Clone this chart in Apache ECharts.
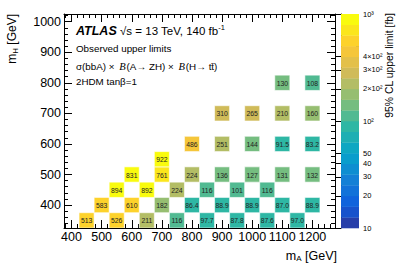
<!DOCTYPE html>
<html>
<head>
<meta charset="utf-8">
<script src="https://cdn.jsdelivr.net/npm/echarts@6/dist/echarts.min.js"></script>
<style>html,body{margin:0;padding:0;background:#fff}#c{width:399px;height:271px}</style>
</head>
<body>
<div id="c"></div>
<script>
// ---- data ----
const massA = [450,550,650,750,850,950,1050,1150,
               500,600,700,800,900,1000,1100,1200,
               550,650,750,850,950,1050,
               600,700,800,900,1000,1100,1200,
               700,
               800,900,1000,1100,1200,
               900,1000,1100,1200,
               1100,1200];
const massH = [350,350,350,350,350,350,350,350,
               400,400,400,400,400,400,400,400,
               450,450,450,450,450,450,
               500,500,500,500,500,500,500,
               550,
               600,600,600,600,600,
               700,700,700,700,
               800,800];
const limits = [513,526,211,116,97.7,87.8,87.6,97.0,
                583,610,182,86.4,88.9,88.9,87.0,88.9,
                894,892,224,116,101,116,
                831,761,224,136,127,131,132,
                922,
                486,251,144,91.5,83.2,
                310,265,210,160,
                130,108];
const xTickLabels = [400,500,600,700,800,900,1000,1100,1200];
const yTickLabels = [400,500,600,700,800,900,1000];
const zTickValues = [10,20,30,40,50,100,200,300,400,1000];
const zTickLabels = ['10','20','30','40','50','10²','2×10²','3×10²','4×10²','10³'];
const zMinorTicks = [60,70,80,90,500,600,700,800,900];

// ---- style ----
const FONT = 'Liberation Sans, Arial, Helvetica, sans-serif';
const binW = 50, binH = 50;
const nContours = 20;
// ROOT kBird palette stops
const stops = [0,0.125,0.25,0.375,0.5,0.625,0.75,0.875,1];
const rr = [0.2082,0.0592,0.0780,0.0232,0.1802,0.5301,0.8186,0.9956,0.9764];
const gg = [0.1664,0.3599,0.5041,0.6419,0.7178,0.7492,0.7328,0.7862,0.9832];
const bb = [0.5293,0.8684,0.8385,0.7914,0.6425,0.4662,0.3499,0.1968,0.0539];
function bird(f){
  f=Math.max(0,Math.min(1,f));
  let i=0; while(i<stops.length-2 && f>stops[i+1]) i++;
  const t=(f-stops[i])/(stops[i+1]-stops[i]);
  const c=a=>Math.round(255*(a[i]+t*(a[i+1]-a[i])));
  return 'rgb('+c(rr)+','+c(gg)+','+c(bb)+')';
}
const zMin = 1, zMax = 3; // log10 range 10..1000
const step = (zMax-zMin)/nContours;
const pieces = [];
const bands = [];
for(let k=0;k<nContours;k++){
  const col = bird((k+0.99)/nContours);
  const lo = zMin+k*step, hi = zMin+(k+1)*step;
  const p = {gte: lo, color: col};
  if(k<nContours-1) p.lt = hi; else p.lte = hi+1;
  pieces.push(p);
  bands.push([lo, hi, col]);
}

const cells = massA.map((a,i)=>[a, massH[i], limits[i], Math.log10(limits[i])]);
function fmt(v){ return v>=100 ? String(Math.round(v)) : v.toFixed(1); }

const lg = v=>Math.log10(v);
const xMinor=[], yMinor=[];
for(let v=380; v<=1260; v+=20) if(v%100) xMinor.push(v);
for(let v=340; v<=1020; v+=20) if(v%100) yMinor.push(v);

const axisLine = {show:true, lineStyle:{color:'#000', width:1}};
const plain = v=>String(Math.round(v));
function xa(extra){ return Object.assign({type:'value', gridIndex:0, min:375, max:1275, splitLine:{show:false}}, extra); }
function ya(extra){ return Object.assign({type:'value', gridIndex:0, min:325, max:1025, splitLine:{show:false}}, extra); }

const chart = echarts.init(document.getElementById('c'), null, {renderer:'svg'});
chart.setOption({
  backgroundColor:'#fff',
  animation:false,
  grid:[
    {left:64, right:64, top:14, bottom:43},
    {left:341, width:18, top:14, bottom:43}
  ],
  xAxis:[
    xa({position:'bottom', axisLine:axisLine,
        axisTick:{inside:true, length:8, customValues:xTickLabels, lineStyle:{color:'#000'}},
        axisLabel:{customValues:xTickLabels, formatter:plain, hideOverlap:false, interval:0,
                   color:'#000', fontSize:12.5, fontFamily:FONT, margin:2}}),
    xa({position:'bottom', axisLine:{show:false}, axisLabel:{show:false},
        axisTick:{inside:true, length:4, customValues:xMinor, lineStyle:{color:'#000'}}}),
    xa({position:'top', axisLine:axisLine, axisLabel:{show:false},
        axisTick:{inside:true, length:8, customValues:xTickLabels, lineStyle:{color:'#000'}}}),
    xa({position:'top', axisLine:{show:false}, axisLabel:{show:false},
        axisTick:{inside:true, length:4, customValues:xMinor, lineStyle:{color:'#000'}}}),
    {type:'value', gridIndex:1, min:0, max:1, show:false}
  ],
  yAxis:[
    ya({position:'left', axisLine:axisLine,
        axisTick:{inside:true, length:8, customValues:yTickLabels, lineStyle:{color:'#000'}},
        axisLabel:{customValues:yTickLabels, formatter:plain, hideOverlap:false, interval:0,
                   color:'#000', fontSize:12.5, fontFamily:FONT, margin:3}}),
    ya({position:'left', axisLine:{show:false}, axisLabel:{show:false},
        axisTick:{inside:true, length:4, customValues:yMinor, lineStyle:{color:'#000'}}}),
    ya({position:'right', axisLine:axisLine, axisLabel:{show:false},
        axisTick:{inside:true, length:8, customValues:yTickLabels, lineStyle:{color:'#000'}}}),
    ya({position:'right', axisLine:{show:false}, axisLabel:{show:false},
        axisTick:{inside:true, length:4, customValues:yMinor, lineStyle:{color:'#000'}}}),
    {type:'value', gridIndex:1, min:zMin, max:zMax, position:'right', splitLine:{show:false},
     axisLine:axisLine,
     axisTick:{inside:true, length:6, customValues:zTickValues.map(lg), lineStyle:{color:'#000'}},
     axisLabel:{customValues:zTickValues.map(lg), color:'#000', fontSize:7.5, fontFamily:FONT, margin:4,
       hideOverlap:false,
       formatter:function(v){ const n=Math.round(Math.pow(10,v)); const i=zTickValues.indexOf(n); return i>=0?zTickLabels[i]:''; }}},
    {type:'value', gridIndex:1, min:zMin, max:zMax, position:'right', splitLine:{show:false},
     axisLine:{show:false}, axisLabel:{show:false},
     axisTick:{inside:true, length:3, customValues:zMinorTicks.map(lg), lineStyle:{color:'#000'}}}
  ],
  visualMap:[{type:'piecewise', show:false, dimension:3, seriesIndex:0, pieces:pieces}],
  series:[
    {type:'custom', xAxisIndex:0, yAxisIndex:0, data:cells, clip:true,
     renderItem:function(params, api){
       const x=api.value(0), y=api.value(1), v=api.value(2);
       const p0=api.coord([x-binW/2, y+binH/2]);
       const p1=api.coord([x+binW/2, y-binH/2]);
       return {type:'group', children:[
         {type:'rect', shape:{x:p0[0], y:p0[1], width:p1[0]-p0[0], height:p1[1]-p0[1]},
          style:{fill:api.visual('color'), stroke:'rgba(255,255,255,0.6)', lineWidth:1}},
         {type:'text', style:{text:fmt(v), x:(p0[0]+p1[0])/2, y:(p0[1]+p1[1])/2+0.5,
          align:'center', verticalAlign:'middle', fontSize:6.8, fontFamily:FONT, fill:'#222'}}
       ]};
     }},
    {type:'custom', xAxisIndex:4, yAxisIndex:4, data:bands,
     renderItem:function(params, api){
       const lo=api.value(0), hi=api.value(1);
       const p0=api.coord([0, hi]), p1=api.coord([1, lo]);
       return {type:'rect', shape:{x:p0[0], y:p0[1], width:p1[0]-p0[0], height:p1[1]-p0[1]+0.3},
               style:{fill:bands[params.dataIndex][2]}};
     }}
  ],
  graphic:[
    {type:'text', left:76, top:23, style:{
      text:'{a|ATLAS} {r|√s = 13 TeV, 140 fb}{s|-1}',
      rich:{a:{fontSize:12.5, fontWeight:'bold', fontStyle:'italic', fontFamily:FONT, fill:'#000'},
            r:{fontSize:11.5, fontFamily:FONT, fill:'#000'},
            s:{fontSize:7.5, fontFamily:FONT, fill:'#000', padding:[0,0,7,0]}}}},
    {type:'text', left:76, top:43, style:{text:'Observed upper limits', fontSize:9.8, fontFamily:FONT, fill:'#000'}},
    {type:'text', left:76, top:61, style:{
      text:'{n|σ(bbA) × }{b|B}{n|(A→ ZH) × }{b|B}{n|(H→ tt\u0304)}',
      rich:{n:{fontSize:9.8, fontFamily:FONT, fill:'#000'},
            b:{fontSize:10.5, fontStyle:'italic', fontFamily:'Liberation Serif, serif', fill:'#000', padding:[0,1,0,2]}}}},
    {type:'text', left:76, top:76, style:{text:'2HDM tanβ=1', fontSize:9.8, fontFamily:FONT, fill:'#000'}},
    {type:'text', right:62, top:249, style:{
      text:'{m|m}{s|A}{m| [GeV]}',
      rich:{m:{fontSize:12.5, fontFamily:FONT, fill:'#000'},
            s:{fontSize:8, fontFamily:FONT, fill:'#000', padding:[6,0,0,0]}}}},
    {type:'text', x:12, y:14, rotation:Math.PI/2, style:{
      text:'{m|m}{s|H}{m| [GeV]}', align:'right', verticalAlign:'middle',
      rich:{m:{fontSize:12, fontFamily:FONT, fill:'#000'},
            s:{fontSize:8, fontFamily:FONT, fill:'#000', padding:[6,0,0,0]}}}},
    {type:'text', x:389, y:13, rotation:Math.PI/2, style:{
      text:'95% CL upper limit [fb]', align:'right', verticalAlign:'middle',
      fontSize:10.4, fontFamily:FONT, fill:'#000'}}
  ]
});
</script>
</body>
</html>
